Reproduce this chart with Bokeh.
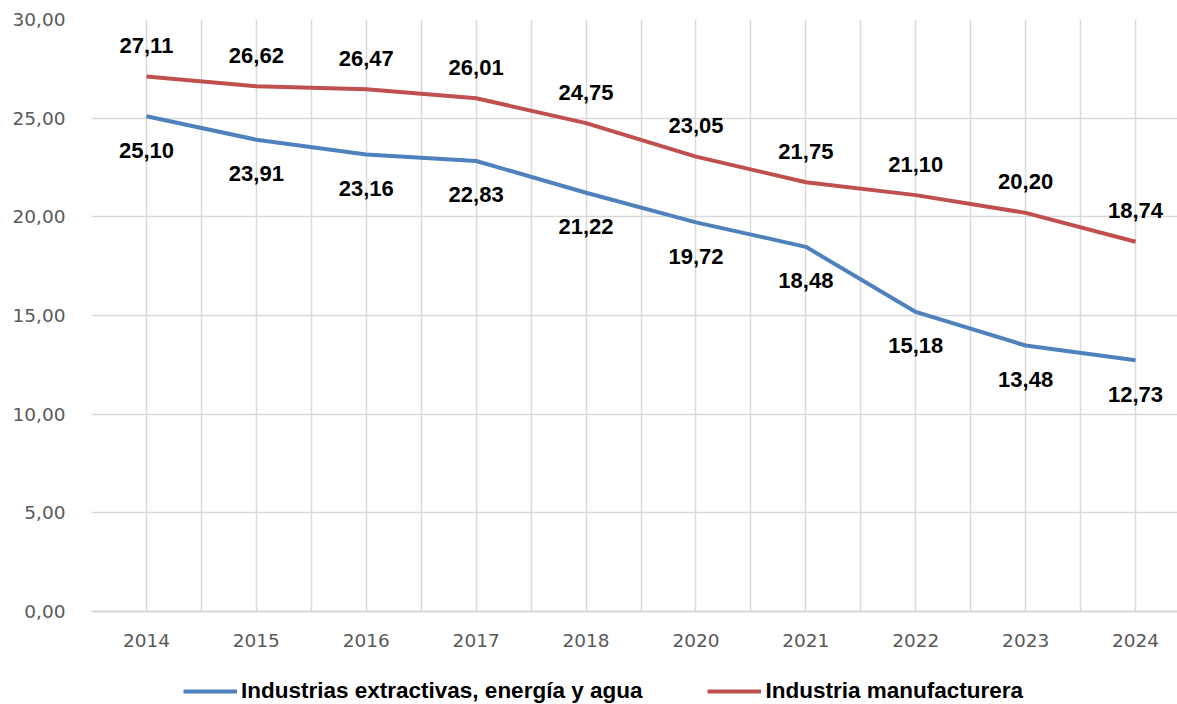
from bokeh.plotting import figure
from bokeh.layouts import column
from bokeh.models import (ColumnDataSource, FixedTicker, Range1d, Legend, LegendItem)
from bokeh.core.properties import value
from bokeh.embed import file_html
from bokeh.resources import INLINE

years = ["2014", "2015", "2016", "2017", "2018", "2020", "2021", "2022", "2023", "2024"]
extractivas = [25.10, 23.91, 23.16, 22.83, 21.22, 19.72, 18.48, 15.18, 13.48, 12.73]
manufacturera = [27.11, 26.62, 26.47, 26.01, 24.75, 23.05, 21.75, 21.10, 20.20, 18.74]
y_ticks = [0, 5, 10, 15, 20, 25, 30]
series_names = ["Industrias extractivas, energía y agua", "Industria manufacturera"]

BLUE = "#4F81BD"
RED = "#C0504D"
GRID = "#D9D9D9"

xs = list(range(len(years)))

p = figure(width=1177, height=655, output_backend="svg", toolbar_location=None,
           x_range=Range1d(-0.5, -0.5 + (1177 - 91) / 109.9), y_range=Range1d(0, 30),
           min_border_left=91, min_border_right=0, min_border_top=19, min_border_bottom=44)
p.outline_line_color = None
p.background_fill_color = "white"
p.border_fill_color = "white"

# grids
p.xgrid.ticker = FixedTicker(ticks=[i * 0.5 - 0.5 for i in range(2 * len(years) + 1)])
p.ygrid.ticker = FixedTicker(ticks=y_ticks)
p.xgrid.grid_line_color = GRID
p.ygrid.grid_line_color = GRID
p.xgrid.grid_line_width = 1.5
p.ygrid.grid_line_width = 1.5

# axes
p.xaxis.ticker = FixedTicker(ticks=xs)
p.xaxis.major_label_overrides = {i: y for i, y in enumerate(years)}
p.yaxis.ticker = FixedTicker(ticks=y_ticks)
p.yaxis.major_label_overrides = {t: f"{t:.2f}".replace(".", ",") for t in y_ticks}
for ax in (p.xaxis, p.yaxis):
    ax.major_tick_line_color = None
    ax.minor_tick_line_color = None
    ax.major_label_text_font = "DejaVu Sans"
    ax.major_label_text_font_size = "18.5px"
    ax.major_label_text_color = "#595959"
p.yaxis.axis_line_color = None
p.xaxis.axis_line_color = GRID
p.xaxis.axis_line_width = 2
p.yaxis.major_label_standoff = 20
p.xaxis.major_label_standoff = 16

r_blue = p.line(xs, extractivas, line_color=BLUE, line_width=4, line_join="round")
r_red = p.line(xs, manufacturera, line_color=RED, line_width=4, line_join="round")

fmt = lambda v: f"{v:.2f}".replace(".", ",")
src_b = ColumnDataSource(dict(x=xs, y=extractivas, t=[fmt(v) for v in extractivas]))
src_r = ColumnDataSource(dict(x=xs, y=manufacturera, t=[fmt(v) for v in manufacturera]))
p.text(x="x", y="y", text="t", source=src_b, y_offset=34, text_align="center", text_baseline="middle",
       text_font=value("Liberation Sans"), text_font_style="bold", text_font_size="22px", text_color="black")
p.text(x="x", y="y", text="t", source=src_r, y_offset=-31, text_align="center", text_baseline="middle",
       text_font=value("Liberation Sans"), text_font_style="bold", text_font_size="22px", text_color="black")

# legend strip below the chart (its sample lines sit outside the visible range)
lg = figure(width=1177, height=49, output_backend="svg", toolbar_location=None,
            x_range=Range1d(0, 1), y_range=Range1d(0, 1),
            x_axis_type=None, y_axis_type=None,
            min_border_left=0, min_border_right=0, min_border_top=0, min_border_bottom=0)
lg.grid.visible = False
lg.outline_line_color = None
lb = lg.line(x=[-5, -4], y=[-5, -5], line_color=BLUE, line_width=4)
lr = lg.line(x=[-5, -4], y=[-5, -5], line_color=RED, line_width=4)
legend = Legend(items=[LegendItem(label=series_names[0], renderers=[lb]),
                       LegendItem(label=series_names[1], renderers=[lr])],
                orientation="horizontal", location=(92, 0))
legend.label_text_font = "Liberation Sans"
legend.label_text_font_style = "bold"
legend.label_text_font_size = "22.5px"
legend.label_text_color = "black"
legend.label_height = 24
legend.glyph_width = 54
legend.glyph_height = 24
legend.label_standoff = 4
legend.spacing = 65
legend.padding = 0
legend.margin = 0
legend.border_line_color = None
legend.background_fill_alpha = 0
lg.add_layout(legend, "center")

layout = column(p, lg, spacing=0)
open("out.html", "w").write(file_html(layout, INLINE))
